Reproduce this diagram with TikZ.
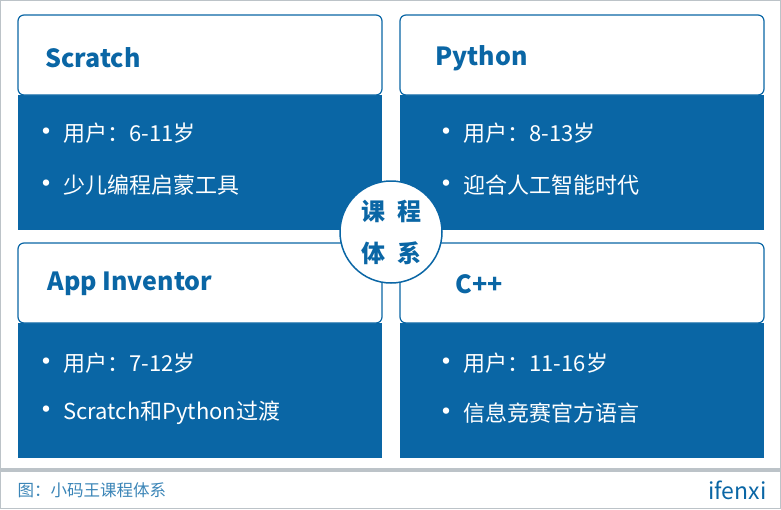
\documentclass[tikz,border=0pt]{standalone}
\usepackage{fontspec}
\setmainfont{Noto Sans CJK SC}
\definecolor{bl}{HTML}{0A66A5}
\definecolor{gl}{HTML}{BCC3C8}
\begin{document}
\begin{tikzpicture}[x=1pt,y=-1pt,
  head/.style={draw=bl,line width=1.2pt,fill=white,rounded corners=6pt},
  ttl/.style={anchor=west,text=bl,font=\fontsize{25}{25}\selectfont\bfseries},
  itm/.style={anchor=west,text=white,font=\fontsize{22}{22}\selectfont}]
\useasboundingbox (0,0) rectangle (781,509);
\draw[gl,line width=1pt] (0.5,0.5) rectangle (780.5,508.5);
\fill[gl] (0,468) rectangle (781,472);
\foreach \x/\y in {18/15,400/15,18/243,400/243}{
  \fill[bl] (\x,\y+80) rectangle (\x+364,\y+215);
  \draw[head] (\x,\y+80) -- (\x,\y) -- (\x+364,\y) -- (\x+364,\y+80) -- cycle;
}
\node[ttl] (t1) at (42,58) {Scratch};
\node[ttl] (t2) at (432,58) {Python};
\node[ttl] (t3) at (44,284) {App Inventor};
\node[ttl] (t4) at (452,284) {C++};
\newcommand\bul{{\fontsize{30}{22}\selectfont\raisebox{-1pt}{•}}\hspace{2pt}}
\node[itm] (a1) at (28,133) {\bul 用户：6-11岁};
\node[itm] (a2) at (28,185) {\bul 少儿编程启蒙工具};
\node[itm] (b1) at (428,133) {\bul 用户：8-13岁};
\node[itm] (b2) at (428,185) {\bul 迎合人工智能时代};
\node[itm] (c1) at (28,363) {\bul 用户：7-12岁};
\node[itm] (c2) at (28,413) {\bul Scratch和Python过渡};
\node[itm] (d1) at (428,363) {\bul 用户：11-16岁};
\node[itm] (d2) at (428,413) {\bul 信息竞赛官方语言};
\node[circle,draw=bl,line width=1.5pt,fill=white,minimum size=102pt,inner sep=0pt,text=bl,align=center,font=\fontsize{24}{42}\selectfont\bfseries] (c) at (391,232) {课\hspace{12pt}程\\体\hspace{12pt}系};
\node[anchor=west,text=bl!80,font=\fontsize{16.5}{16}\selectfont] (cap) at (14,490) {图：小码王课程体系};
\node[anchor=east,text=bl,font=\fontsize{23}{23}\selectfont] (logo) at (770,490) {ifenxi};
\end{tikzpicture}
\end{document}
